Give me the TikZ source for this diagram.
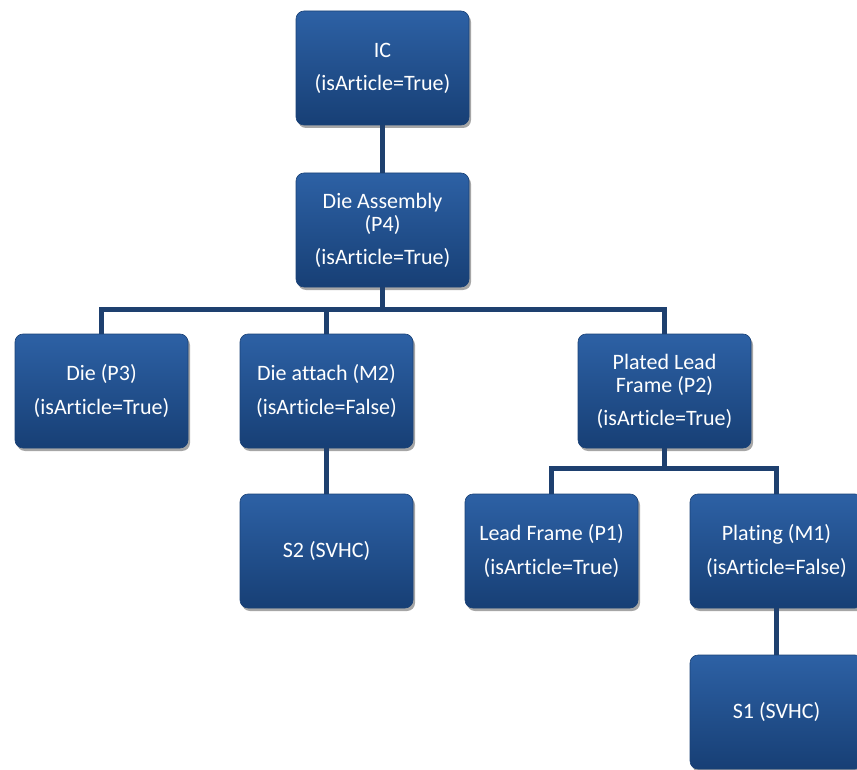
\documentclass[tikz,border=0pt]{standalone}
\usepackage{fontspec}
\setmainfont[Ligatures=NoCommon]{Carlito}
\usetikzlibrary{shadows,calc}
\definecolor{boxtop}{HTML}{2D61A5}
\definecolor{boxbot}{HTML}{173F75}
\definecolor{boxedge}{HTML}{1A4277}
\definecolor{conn}{HTML}{1E406F}
\tikzset{
  item/.style={rectangle, rounded corners=8pt, minimum width=173pt, minimum height=114pt,
    top color=boxtop, bottom color=boxbot, draw=boxedge, line width=0.6pt,
    text=white, align=center, inner sep=0pt,
    font=\fontsize{22}{23}\selectfont,
    drop shadow={shadow xshift=2pt, shadow yshift=-3pt, opacity=0.35, fill=black}},
  link/.style={draw=conn, line width=5pt}
}
\begin{document}
\begin{tikzpicture}[x=1pt,y=-1pt]
\useasboundingbox (0,0) rectangle (857,770);
\node[item] (ic) at (382.5,68) {IC\\[10pt](isArticle=True)};
\node[item] (da) at (382.5,230) {Die Assembly\\(P4)\\[10pt](isArticle=True)};
\node[item] (die) at (101.5,391) {Die (P3)\\[11pt](isArticle=True)};
\node[item] (att) at (326.5,391) {Die attach (M2)\\[11pt](isArticle=False)};
\node[item] (plf) at (664.5,391) {Plated Lead\\Frame (P2)\\[10pt](isArticle=True)};
\node[item] (s2) at (326.5,551) {S2 (SVHC)};
\node[item] (lf) at (551.5,551) {Lead Frame (P1)\\[11pt](isArticle=True)};
\node[item] (pl) at (776.5,551) {Plating (M1)\\[11pt](isArticle=False)};
\node[item] (s1) at (776.5,712) {S1 (SVHC)};
\draw[link] (ic.south) -- (da.north);
\draw[link] (da.south) |- ($(die.north)+(0,-24)$) -- (die.north);
\draw[link] (da.south) |- ($(att.north)+(0,-24)$) -- (att.north);
\draw[link] (da.south) |- ($(plf.north)+(0,-24)$) -- (plf.north);
\draw[link] (att.south) -- (s2.north);
\draw[link] (plf.south) |- ($(lf.north)+(0,-25)$) -- (lf.north);
\draw[link] (plf.south) |- ($(pl.north)+(0,-25)$) -- (pl.north);
\draw[link] (pl.south) -- (s1.north);
\end{tikzpicture}
\end{document}
